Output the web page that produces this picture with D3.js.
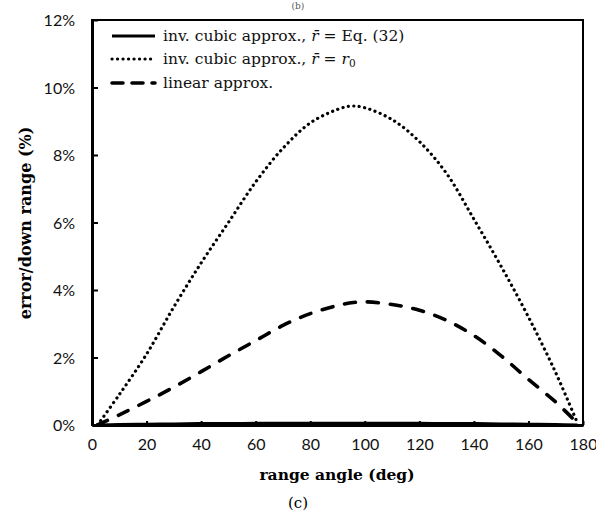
<!DOCTYPE html>
<html>
<head>
<meta charset="utf-8">
<script src="https://cdn.jsdelivr.net/npm/d3@7"></script>
<style>
  body { margin: 0; background: #fff; }
  svg { display: block; }
</style>
</head>
<body>
<script>
// range angle (deg)
var angles = [2, 10, 20, 30, 40, 50, 60, 70, 80, 90, 95, 100, 110, 120, 130, 140, 150, 160, 170, 178];
// error / down range (%)
var cubicEq32 = [0, 0.01, 0.02, 0.03, 0.04, 0.04, 0.05, 0.05, 0.05, 0.05, 0.05, 0.05, 0.05, 0.05, 0.04, 0.04, 0.03, 0.02, 0.01, 0];
var cubicR0   = [0, 0.9, 2.1, 3.5, 4.8, 6.0, 7.2, 8.2, 8.95, 9.35, 9.45, 9.4, 9.05, 8.4, 7.45, 6.1, 4.7, 3.2, 1.55, 0.05];
var linear    = [0, 0.3, 0.7, 1.12, 1.58, 2.05, 2.5, 2.95, 3.3, 3.54, 3.62, 3.65, 3.57, 3.4, 3.1, 2.65, 2.05, 1.35, 0.68, 0.05];

var xTicks = [0, 20, 40, 60, 80, 100, 120, 140, 160, 180];
var yTicks = [0, 2, 4, 6, 8, 10, 12];
var legendNames = ["inv. cubic approx., ", "inv. cubic approx., ", "linear approx."];

var width = 596, height = 515;
var margin = {top: 20, right: 13, bottom: 90, left: 92};

var svg = d3.select("body").append("svg")
    .attr("width", width)
    .attr("height", height);

var x = d3.scaleLinear().domain([0, 180]).range([margin.left, width - margin.right]);
var y = d3.scaleLinear().domain([0, 12]).range([height - margin.bottom, margin.top]);

// caption of the panel above (mostly cropped in the source)
svg.append("text")
    .attr("x", 298).attr("y", 9)
    .attr("text-anchor", "middle")
    .attr("font-family", "DejaVu Serif")
    .attr("font-size", 9)
    .attr("fill", "#555")
    .text("(b)");

// frame
svg.append("rect")
    .attr("x", x(0)).attr("y", y(12))
    .attr("width", x(180) - x(0))
    .attr("height", y(0) - y(12))
    .attr("fill", "none")
    .attr("stroke", "#000")
    .attr("stroke-width", 2);

// axes with inward ticks
var xAxis = svg.append("g")
    .attr("transform", "translate(0," + y(0) + ")")
    .call(d3.axisBottom(x).tickValues(xTicks).tickSizeInner(-4).tickSizeOuter(0).tickPadding(14));
var yAxis = svg.append("g")
    .attr("transform", "translate(" + x(0) + ",0)")
    .call(d3.axisLeft(y).tickValues(yTicks).tickSizeInner(-6).tickSizeOuter(0).tickPadding(17)
        .tickFormat(function(d) { return d + "%"; }));

[xAxis, yAxis].forEach(function(g) {
    g.select(".domain").attr("stroke-width", 3);
    g.selectAll(".tick line").attr("stroke-width", 2);
    g.selectAll(".tick text")
        .attr("font-family", "Lato")
        .attr("font-size", 16)
        .attr("fill", "#111");
});
yAxis.selectAll(".tick text").attr("dy", "0.35em");

// curves
var series = [
    {values: cubicEq32, width: 3.2, dash: null, cap: "butt"},
    {values: cubicR0, width: 3.2, dash: "0.1,5.4", cap: "round"},
    {values: linear, width: 3.6, dash: "11,12", cap: "round"}
];

var line = d3.line()
    .x(function(d) { return x(d[0]); })
    .y(function(d) { return y(d[1]); })
    .curve(d3.curveCatmullRom.alpha(0.5));

series.forEach(function(s) {
    svg.append("path")
        .datum(angles.map(function(a, i) { return [a, s.values[i]]; }))
        .attr("d", line)
        .attr("fill", "none")
        .attr("stroke", "#000")
        .attr("stroke-width", s.width)
        .attr("stroke-linecap", s.cap)
        .attr("stroke-dasharray", s.dash);
});

// legend
var legend = svg.append("g").attr("font-family", "DejaVu Serif").attr("font-size", 15.5).attr("fill", "#111");
var rowY = [36, 59, 83];
var legendDash = [null, "0.1,5.4", "11,9"];
series.forEach(function(s, i) {
    legend.append("line")
        .attr("x1", 112).attr("x2", 155)
        .attr("y1", rowY[i]).attr("y2", rowY[i])
        .attr("stroke", "#000")
        .attr("stroke-width", s.width)
        .attr("stroke-linecap", s.cap)
        .attr("stroke-dasharray", legendDash[i]);
});

var t0 = legend.append("text").attr("x", 163).attr("y", rowY[0] + 5);
t0.append("tspan").text(legendNames[0]);
t0.append("tspan").attr("font-style", "italic").text("r\u0304");
t0.append("tspan").text(" = Eq. (32)");

var t1 = legend.append("text").attr("x", 163).attr("y", rowY[1] + 5);
t1.append("tspan").text(legendNames[1]);
t1.append("tspan").attr("font-style", "italic").text("r\u0304");
t1.append("tspan").text(" = ");
t1.append("tspan").attr("font-style", "italic").text("r");
t1.append("tspan").attr("font-size", 10.5).attr("dy", 3).text("0");

legend.append("text").attr("x", 163).attr("y", rowY[2] + 5).text(legendNames[2]);

// axis titles
svg.append("text")
    .attr("x", 337).attr("y", 480)
    .attr("text-anchor", "middle")
    .attr("font-family", "DejaVu Serif")
    .attr("font-weight", "bold")
    .attr("font-size", 15.5)
    .text("range angle (deg)");

svg.append("text")
    .attr("transform", "translate(31,223) rotate(-90)")
    .attr("text-anchor", "middle")
    .attr("font-family", "DejaVu Serif")
    .attr("font-weight", "bold")
    .attr("font-size", 16)
    .text("error/down range (%)");

svg.append("text")
    .attr("x", 298).attr("y", 508)
    .attr("text-anchor", "middle")
    .attr("font-family", "DejaVu Serif")
    .attr("font-size", 15)
    .text("(c)");
</script>
</body>
</html>
